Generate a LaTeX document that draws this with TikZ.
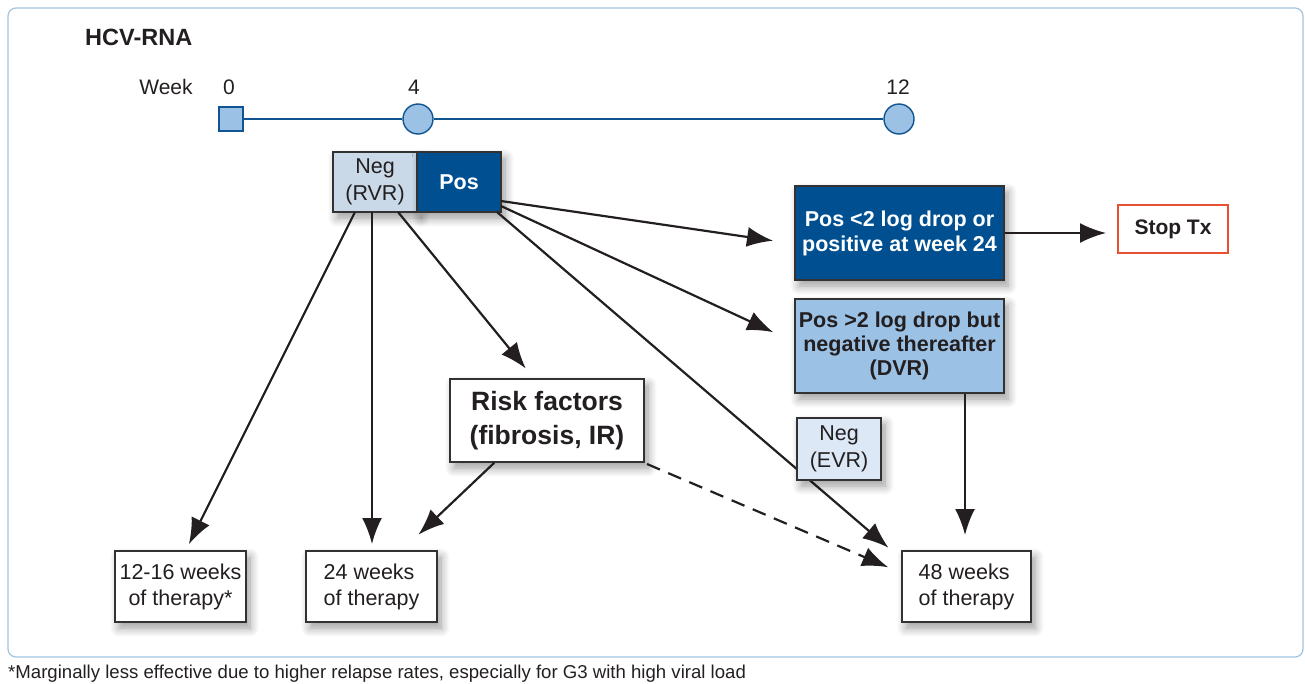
\documentclass[tikz,border=0pt]{standalone}
\usepackage{fontspec}
\setmainfont{Liberation Sans}
\usetikzlibrary{arrows.meta,shadows.blur}
\definecolor{frameblue}{RGB}{160,196,222}
\definecolor{darkblue}{RGB}{0,79,145}
\definecolor{lineblue}{RGB}{16,84,146}
\definecolor{midblue}{RGB}{155,193,229}
\definecolor{rvrfill}{RGB}{202,217,231}
\definecolor{evrfill}{RGB}{220,232,246}
\definecolor{boxline}{RGB}{50,50,50}
\definecolor{stopred}{RGB}{232,80,50}
\definecolor{txt}{RGB}{35,31,32}
\tikzset{
  x=1pt,y=-1pt,
  boxbase/.style={draw=boxline,line width=1.5pt,rectangle,inner sep=0pt,align=center,text=txt,
     blur shadow={shadow xshift=4pt,shadow yshift=-6pt,shadow blur steps=10,shadow opacity=40,shadow blur radius=9pt}},
  plainbox/.style={boxbase,fill=white,font=\fontsize{21.5}{26}\selectfont},
  arr/.style={line width=2.2pt,draw=txt,-{Latex[length=26pt,width=20pt]},shorten >=2pt},
  lbl/.style={text=txt,font=\fontsize{21}{25}\selectfont,inner sep=0pt},
}
\begin{document}
\begin{tikzpicture}
\useasboundingbox (0,0) rectangle (1305,683);
\draw[frameblue,line width=1.2pt,rounded corners=8pt] (8,8) rectangle (1303,657);
\node[text=txt,font=\fontsize{23.5}{28}\selectfont\bfseries,anchor=west,inner sep=0pt] (title) at (85,37) {HCV-RNA};
\node[lbl] (week) at (166,87) {Week};
\node[lbl] (w0) at (229,87) {0};
\node[lbl] (w4) at (414,87) {4};
\node[lbl] (w12) at (898,87) {12};
% timeline
\node[draw=lineblue,fill=midblue,line width=1.4pt,minimum size=24pt,inner sep=0pt] (t0) at (231,119) {};
\node[draw=lineblue,fill=midblue,line width=1.4pt,circle,minimum size=30pt,inner sep=0pt] (t4) at (418,119) {};
\node[draw=lineblue,fill=midblue,line width=1.4pt,circle,minimum size=30pt,inner sep=0pt] (t12) at (899,119) {};
\draw[lineblue,line width=2pt] (t0) -- (t4);
\draw[lineblue,line width=2pt] (t4) -- (t12);
% week 4 result boxes
\node[boxbase,fill=rvrfill,minimum width=84pt,minimum height=60pt,font=\fontsize{21.5}{27}\selectfont] (neg) at (375,182) {Neg\\(RVR)};
\node[boxbase,fill=darkblue,text=white,minimum width=84pt,minimum height=60pt,font=\fontsize{21.5}{27}\selectfont\bfseries] (pos) at (459,182) {Pos};
% right boxes
\node[boxbase,fill=darkblue,text=white,minimum width=209pt,minimum height=94pt,font=\fontsize{21.5}{25}\selectfont\bfseries] (pa) at (899.5,233) {Pos <2 log drop or\\positive at week 24};
\node[draw=stopred,line width=1.4pt,fill=white,minimum width=110pt,minimum height=48pt,inner sep=0pt,text=txt,font=\fontsize{21}{25}\selectfont\bfseries] (stop) at (1173,229) {Stop Tx};
\node[boxbase,fill=midblue,minimum width=209pt,minimum height=94pt,font=\fontsize{21.5}{24}\selectfont\bfseries] (pb) at (899.5,346) {Pos >2 log drop but\\negative thereafter\\(DVR)};
% risk factors
\node[boxbase,fill=white,minimum width=194pt,minimum height=83pt,font=\fontsize{26.5}{34}\selectfont\bfseries] (risk) at (547,420.5) {Risk factors\\(fibrosis, IR)};
% outcome boxes
\node[plainbox,minimum width=131pt,minimum height=71pt] (r1) at (180.5,586.5) {12-16 weeks\\of therapy*};
\node[plainbox,align=left,minimum width=131pt,minimum height=71pt] (r2) at (371.5,586.5) {24 weeks\\of therapy};
\node[plainbox,align=left,minimum width=129pt,minimum height=71pt] (r3) at (966.5,586.5) {48 weeks\\of therapy};
% coordinates for arrow ends
\coordinate (n1) at (355,212);
\coordinate (n2) at (372,212);
\coordinate (n3) at (398,212);
\coordinate (p1) at (501,201);
\coordinate (p2) at (501,206);
\coordinate (p3) at (497,212);
% arrows
\draw[arr] (n1) -- (188,546);
\draw[arr] (n2) -- (372,546);
\draw[arr] (n3) -- (527,370);
\draw[arr] (p1) -- (775,241);
\draw[arr] (p2) -- (775,333);
\draw[arr] (p3) -- (890,549);
\draw[arr] (risk.south west) ++(45,0) -- (417,536);
\draw[arr,dashed,dash pattern=on 14pt off 9pt] (647,464) -- (890,568);
\draw[arr] (pa.east |- stop.west) ++(0,4) -- (1108,233);
\draw[arr] (pb.south) ++(65.5,0) -- (965,537);
% EVR box on top of line
\node[boxbase,fill=evrfill,minimum width=84pt,minimum height=62pt,font=\fontsize{21.5}{27}\selectfont] (evr) at (839,449) {Neg\\(EVR)};
% footnote
\node[anchor=west,inner sep=0pt,text=txt,font=\fontsize{18.6}{22}\selectfont] (foot) at (8,674) {*Marginally less effective due to higher relapse rates, especially for G3 with high viral load};
\end{tikzpicture}
\end{document}
